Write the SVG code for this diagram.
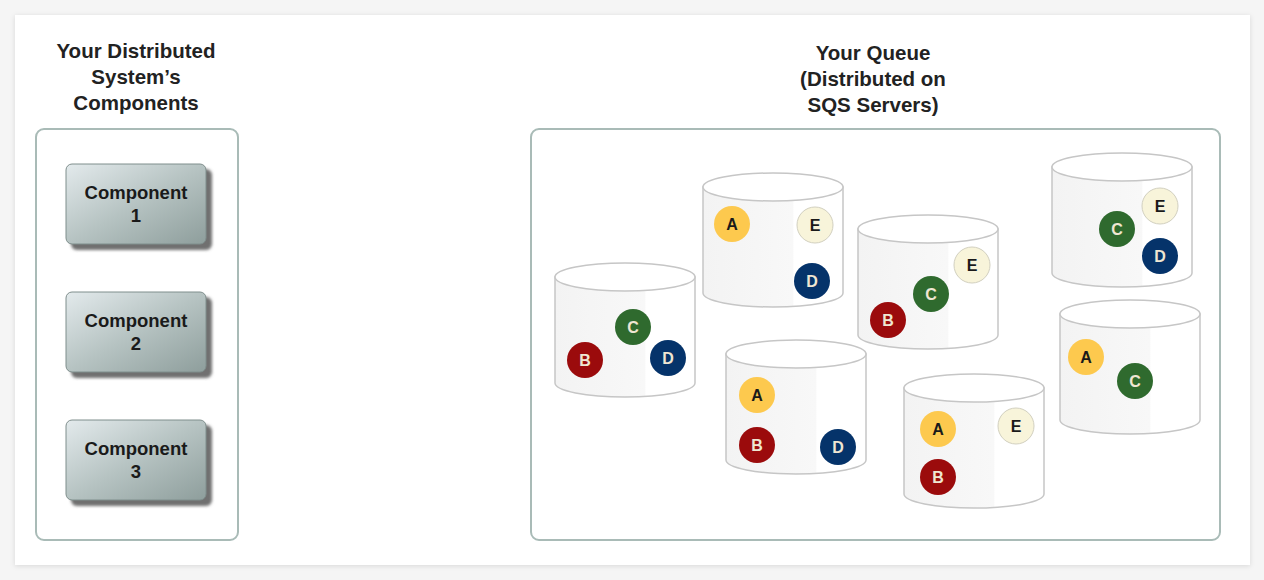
<svg xmlns="http://www.w3.org/2000/svg" width="1264" height="580" viewBox="0 0 1264 580">
<defs>
<style>
.title{font-family:"Liberation Sans",Arial,sans-serif;font-weight:bold;font-size:20.5px;fill:#222222;text-anchor:middle}
.ctext{font-family:"Liberation Sans",Arial,sans-serif;font-weight:bold;font-size:18.5px;fill:#1a1a1a;text-anchor:middle}
.lbl{font-family:"Liberation Sans",Arial,sans-serif;font-weight:bold;font-size:16px;text-anchor:middle}
.panel{fill:#ffffff;stroke:#a9bbb7;stroke-width:2}
.comp{fill:url(#cg);stroke:#7f8e8c;stroke-width:1}
.compsh{fill:#6f6f6f;filter:url(#blur1)}
.cylbody{fill:url(#cylg);stroke:#c6c6c6;stroke-width:1.5}
.cyltop{fill:#ffffff;stroke:#c6c6c6;stroke-width:1.5}
.bA{fill:#fdc94e}
.bB{fill:#9b0b0c}
.bC{fill:#2f6a2e}
.bD{fill:#05336a}
.bE{fill:#f8f4da;stroke:#d2d0c0;stroke-width:1}
.tdark{fill:#1a1a1a}
.tlight{fill:#efe6d2}
</style>
<linearGradient id="cg" x1="0" y1="0" x2="1" y2="1">
<stop offset="0" stop-color="#e3eaec"/>
<stop offset="0.5" stop-color="#b6c3c2"/>
<stop offset="1" stop-color="#8e9e9c"/>
</linearGradient>
<linearGradient id="cylg" x1="0" y1="0" x2="1" y2="0">
<stop offset="0" stop-color="#f3f3f3"/>
<stop offset="0.64" stop-color="#f8f8f8"/>
<stop offset="0.65" stop-color="#ffffff"/>
<stop offset="1" stop-color="#ffffff"/>
</linearGradient>
<filter id="blur1" x="-20%" y="-20%" width="140%" height="140%">
<feGaussianBlur stdDeviation="1.5"/>
</filter>
<filter id="cardsh" x="-5%" y="-5%" width="110%" height="110%">
<feDropShadow dx="0" dy="1" stdDeviation="2.5" flood-color="#000" flood-opacity="0.12"/>
</filter>
<g id="cyl">
<path class="cylbody" d="M0,14 L0,120 A70,14 0 0 0 140,120 L140,14 Z"/>
<ellipse class="cyltop" cx="70" cy="14" rx="70" ry="14"/>
</g>
</defs>
<rect x="0" y="0" width="1264" height="580" fill="#f5f5f5"/>
<rect x="15" y="15" width="1235" height="550" fill="#ffffff" filter="url(#cardsh)"/>

<g id="left-title">
<text class="title" x="136" y="58">Your Distributed</text>
<text class="title" x="136" y="84">System’s</text>
<text class="title" x="136" y="110">Components</text>
</g>
<g id="right-title">
<text class="title" x="873" y="60">Your Queue</text>
<text class="title" x="873" y="86">(Distributed on</text>
<text class="title" x="873" y="112">SQS Servers)</text>
</g>

<g id="components-panel">
<rect class="panel" x="36" y="129" width="202" height="411" rx="8"/>
</g>
<g id="component1">
<rect class="compsh" x="71" y="169" width="141" height="81" rx="6"/>
<rect class="comp" x="66" y="164" width="140" height="80" rx="6"/>
<text class="ctext" x="136" y="199">Component</text>
<text class="ctext" x="136" y="222">1</text>
</g>
<g id="component2">
<rect class="compsh" x="71" y="297" width="141" height="81" rx="6"/>
<rect class="comp" x="66" y="292" width="140" height="80" rx="6"/>
<text class="ctext" x="136" y="327">Component</text>
<text class="ctext" x="136" y="350">2</text>
</g>
<g id="component3">
<rect class="compsh" x="71" y="425" width="141" height="81" rx="6"/>
<rect class="comp" x="66" y="420" width="140" height="80" rx="6"/>
<text class="ctext" x="136" y="455">Component</text>
<text class="ctext" x="136" y="478">3</text>
</g>

<g id="queue-panel">
<rect class="panel" x="531" y="129" width="689" height="411" rx="8"/>
</g>

<g id="server1">
<use href="#cyl" x="555" y="263"/>
<circle class="bC" cx="633" cy="327" r="18"/><text class="lbl tlight" x="633" y="333">C</text>
<circle class="bB" cx="585" cy="360" r="18"/><text class="lbl tlight" x="585" y="366">B</text>
<circle class="bD" cx="668" cy="358" r="18"/><text class="lbl tlight" x="668" y="364">D</text>
</g>
<g id="server2">
<use href="#cyl" x="703" y="173"/>
<circle class="bA" cx="732" cy="224" r="18"/><text class="lbl tdark" x="732" y="230">A</text>
<circle class="bE" cx="815" cy="225" r="18"/><text class="lbl tdark" x="815" y="231">E</text>
<circle class="bD" cx="812" cy="281" r="18"/><text class="lbl tlight" x="812" y="287">D</text>
</g>
<g id="server3">
<use href="#cyl" x="858" y="215"/>
<circle class="bE" cx="972" cy="265" r="18"/><text class="lbl tdark" x="972" y="271">E</text>
<circle class="bC" cx="931" cy="294" r="18"/><text class="lbl tlight" x="931" y="300">C</text>
<circle class="bB" cx="888" cy="320" r="18"/><text class="lbl tlight" x="888" y="326">B</text>
</g>
<g id="server4">
<use href="#cyl" x="1052" y="153"/>
<circle class="bE" cx="1160" cy="206" r="18"/><text class="lbl tdark" x="1160" y="212">E</text>
<circle class="bC" cx="1117" cy="229" r="18"/><text class="lbl tlight" x="1117" y="235">C</text>
<circle class="bD" cx="1160" cy="256" r="18"/><text class="lbl tlight" x="1160" y="262">D</text>
</g>
<g id="server5">
<use href="#cyl" x="1060" y="300"/>
<circle class="bA" cx="1086" cy="357" r="18"/><text class="lbl tdark" x="1086" y="363">A</text>
<circle class="bC" cx="1135" cy="381" r="18"/><text class="lbl tlight" x="1135" y="387">C</text>
</g>
<g id="server6">
<use href="#cyl" x="726" y="340"/>
<circle class="bA" cx="757" cy="395" r="18"/><text class="lbl tdark" x="757" y="401">A</text>
<circle class="bB" cx="757" cy="445" r="18"/><text class="lbl tlight" x="757" y="451">B</text>
<circle class="bD" cx="838" cy="447" r="18"/><text class="lbl tlight" x="838" y="453">D</text>
</g>
<g id="server7">
<use href="#cyl" x="904" y="374"/>
<circle class="bA" cx="938" cy="429" r="18"/><text class="lbl tdark" x="938" y="435">A</text>
<circle class="bE" cx="1016" cy="426" r="18"/><text class="lbl tdark" x="1016" y="432">E</text>
<circle class="bB" cx="938" cy="477" r="18"/><text class="lbl tlight" x="938" y="483">B</text>
</g>
<g id="connectors"/>
</svg>
